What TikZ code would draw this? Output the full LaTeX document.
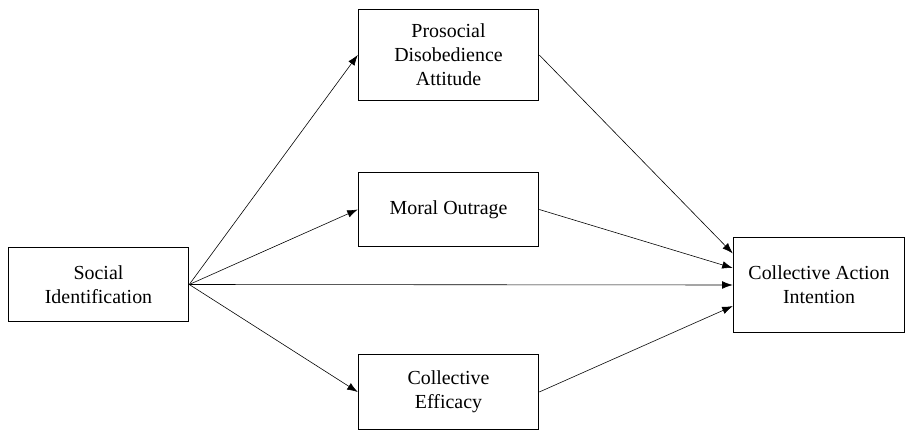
\documentclass[tikz,border=0pt]{standalone}
\usepackage{fontspec}
\setmainfont{Liberation Serif}
\usetikzlibrary{arrows.meta}
\usetikzlibrary{positioning}
\tikzset{box/.style = {draw, line width=1.1pt, align=center, inner sep=0pt,
                       font=\fontsize{17}{20.4}\selectfont},
         link/.style = {line width=0.5pt, -{Latex[length=9pt,width=6.5pt]}}}

\begin{document}
\begin{tikzpicture}[x=0.03cm, y=-0.03cm]
      \useasboundingbox (0, 0) rectangle (908, 431);

      \node [box, minimum width=181*0.85pt, minimum height=75*0.85pt] (si) at (98.5, 284.5) {Social\\Identification};
      \node [box, minimum width=181*0.85pt, minimum height=92*0.85pt] (pda) at (448.5, 55) {Prosocial\\Disobedience\\Attitude};
      \node [box, minimum width=181*0.85pt, minimum height=75*0.85pt] (mo) at (448.5, 209.5) {Moral Outrage};
      \node [box, minimum width=181*0.85pt, minimum height=76*0.85pt] (ce) at (448.5, 392) {Collective\\Efficacy};
      \node [box, minimum width=172*0.85pt, minimum height=96*0.85pt] (cai) at (819, 285) {Collective Action\\Intention};

      \draw [link] (si.east) -- (pda.west);
      \draw [link] (si.east) -- (mo.west);
      \draw [link] (si.east) -- (ce.west);
      \draw [link] (si.east) -- (cai.west);

      \draw [link] (pda.east) -- ([yshift=27pt]cai.west);
      \draw [link] (mo.east) -- ([yshift=14.5pt]cai.west);
      \draw [link] (ce.east) -- ([yshift=-18pt]cai.west);
    \end{tikzpicture}
\end{document}
